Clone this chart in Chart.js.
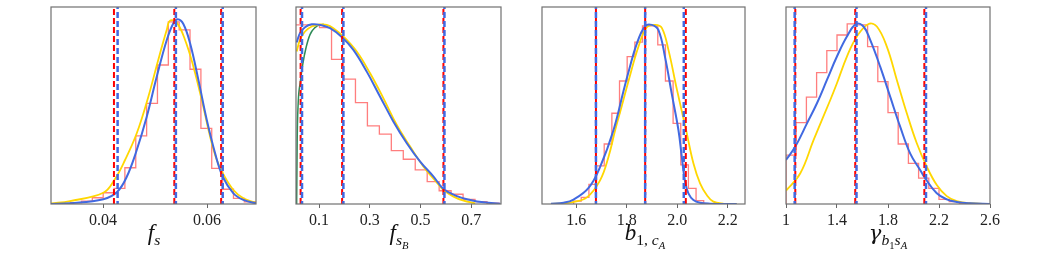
<!DOCTYPE html>
<html>
<head>
<meta charset="utf-8">
<script src="https://cdn.jsdelivr.net/npm/chart.js@4.4.1/dist/chart.umd.min.js"></script>
<style>
  body { margin: 0; background: #fff; }
  #wrap { position: relative; width: 1042px; height: 253px; overflow: hidden; }
  canvas { position: absolute; top: 0; }
  .xl { position: absolute; top: 222px; width: 200px; text-align: center; white-space: nowrap;
        font: italic 23px "Liberation Serif", "DejaVu Serif", serif; line-height: 22px; color: #111; }
  .xl sub { font-size: 68%; vertical-align: -0.35em; line-height: 0; }
  .up { font-style: normal; }
  .gam { font-family: "DejaVu Serif", serif; font-size: 21px; }
</style>
</head>
<body>
<div id="wrap">
  <canvas id="c1"></canvas>
  <canvas id="c2"></canvas>
  <canvas id="c3"></canvas>
  <canvas id="c4"></canvas>
  <div class="xl" style="left:54px">f<sub>s</sub></div>
  <div class="xl" style="left:299px">f<sub>s<sub>B</sub></sub></div>
  <div class="xl" style="left:545px">b<sub><span class="up">1,</span> c<sub>A</sub></sub></div>
  <div class="xl" style="left:788px"><span class="gam">γ</span><sub>b<sub class="up">1</sub>s<sub>A</sub></sub></div>
</div>
<script>
const YMAX = 1.07;

// panel 1: f_s
const fsTicks = [0.04, 0.06];
const fsTickLabels = ['0.04', '0.06'];
const fsEdges = [0.03377,0.03586,0.03794,0.04003,0.04212,0.04420,0.04629,0.04838,0.05046,0.05255,0.05463,0.05672,0.05881,0.06089,0.06298,0.06507,0.06715,0.06924];
const fsHist = [0.007,0.016,0.034,0.061,0.085,0.197,0.370,0.547,0.755,0.989,0.946,0.732,0.411,0.194,0.080,0.031,0.011];
const fsBlueX = [0.0300,0.03365,0.04006,0.04275,0.04456,0.04648,0.04840,0.05033,0.05225,0.05352,0.05437,0.05544,0.05673,0.05833,0.05994,0.06154,0.06302,0.06506,0.06698,0.06937];
const fsBlueY = [0.000,0.004,0.026,0.067,0.148,0.293,0.474,0.692,0.891,0.982,1.004,0.978,0.873,0.674,0.457,0.276,0.148,0.058,0.022,0.004];
const fsGoldX = [0.0300,0.03365,0.04006,0.04217,0.04423,0.04648,0.04871,0.05044,0.05225,0.05288,0.05417,0.05577,0.05737,0.05898,0.06058,0.06187,0.06302,0.06506,0.06698,0.06937];
const fsGoldY = [0.003,0.016,0.061,0.130,0.239,0.384,0.583,0.765,0.946,0.996,0.985,0.891,0.746,0.565,0.366,0.239,0.167,0.076,0.031,0.007];
const fsRedLines = [0.0421, 0.0537, 0.0627];
const fsBlueLines = [0.0428, 0.0540, 0.0630];

// panel 2: f_{s_B}
const fsbTicks = [0.1, 0.3, 0.5, 0.7];
const fsbTickLabels = ['0.1', '0.3', '0.5', '0.7'];
const fsbEdges = [0.0080,0.0551,0.1022,0.1493,0.1964,0.2435,0.2906,0.3377,0.3848,0.4319,0.4790,0.5261,0.5732,0.6203,0.6674,0.7145,0.7616,0.8087];
const fsbHist = [0.973,0.973,0.958,0.786,0.678,0.551,0.424,0.379,0.290,0.243,0.185,0.121,0.072,0.053,0.025,0.013,0.004];
const fsbBlueX = [0.0119,0.0250,0.0448,0.0711,0.1039,0.1434,0.1907,0.2354,0.2880,0.3406,0.3932,0.4458,0.4984,0.5510,0.5905,0.6431,0.6957,0.7482,0.8140];
const fsbBlueY = [0.877,0.928,0.960,0.976,0.973,0.955,0.906,0.837,0.719,0.583,0.447,0.330,0.230,0.149,0.082,0.043,0.022,0.009,0.002];
const fsbGoldX = [0.0119,0.0250,0.0448,0.0711,0.1039,0.1303,0.1565,0.1986,0.2486,0.3012,0.3538,0.4064,0.4590,0.5116,0.5642,0.5905,0.6299,0.6694,0.7154];
const fsbGoldY = [0.828,0.891,0.937,0.964,0.975,0.973,0.955,0.906,0.828,0.710,0.574,0.429,0.312,0.203,0.116,0.076,0.040,0.018,0.004];
const fsbGreenX = [0.0119,0.0140,0.0180,0.0260,0.0360,0.0490,0.0645,0.0840,0.1040,0.1200];
const fsbGreenY = [0.000,0.350,0.550,0.660,0.760,0.850,0.920,0.958,0.973,0.975];
const fsbRedLines = [0.0275, 0.191, 0.590];
const fsbBlueLines = [0.033, 0.196, 0.594];

// panel 3: b_{1, c_A}
const b1Ticks = [1.6, 1.8, 2.0, 2.2];
const b1TickLabels = ['1.6', '1.8', '2.0', '2.2'];
const b1Edges = [1.5895,1.6198,1.6501,1.6805,1.7108,1.7411,1.7714,1.8017,1.8321,1.8624,1.8927,1.9230,1.9533,1.9837,2.0140,2.0443,2.0746,2.1049];
const b1Hist = [0.016,0.036,0.107,0.207,0.326,0.493,0.668,0.801,0.879,0.967,0.967,0.864,0.668,0.438,0.212,0.085,0.018];
const b1BlueX = [1.4998,1.5499,1.5894,1.6488,1.6949,1.7477,1.7872,1.8070,1.8400,1.8729,1.8993,1.9257,1.9521,1.9784,2.0048,2.0180,2.0312,2.0443,2.0641,2.0905,2.1301,2.2355];
const b1BlueY = [0.002,0.007,0.024,0.087,0.203,0.402,0.614,0.717,0.871,0.966,0.973,0.944,0.795,0.598,0.402,0.257,0.121,0.058,0.022,0.007,0.002,0.000];
const b1GoldX = [1.4998,1.5499,1.5894,1.6422,1.6949,1.7279,1.7543,1.7806,1.8070,1.8466,1.8795,1.9125,1.9389,1.9652,1.9982,2.0351,2.0641,2.0905,2.1169,2.1432,2.1828,2.2355];
const b1GoldY = [0.000,0.004,0.011,0.036,0.130,0.257,0.402,0.533,0.668,0.855,0.960,0.973,0.957,0.837,0.625,0.402,0.221,0.112,0.049,0.013,0.002,0.000];
const b1RedLines = [1.678, 1.873, 2.034];
const b1BlueLines = [1.678, 1.873, 2.026];

// panel 4: gamma_{b1 sA}
const gTicks = [1, 1.4, 1.8, 2.2, 2.6];
const gTickLabels = ['1', '1.4', '1.8', '2.2', '2.6'];
const gEdges = [1.00,1.08,1.16,1.24,1.32,1.40,1.48,1.56,1.64,1.72,1.80,1.88,1.96,2.04,2.12,2.20,2.28,2.36,2.44,2.52,2.60];
const gHist = [0.266,0.442,0.580,0.714,0.833,0.918,0.978,0.973,0.855,0.665,0.496,0.326,0.221,0.140,0.085,0.025,0.013,0.004,0.002,0.000];
const gBlueX = [1.0,1.0731,1.1644,1.2428,1.3211,1.3994,1.4777,1.5508,1.6082,1.6604,1.7387,1.8170,1.8953,1.9736,2.0519,2.0911,2.1825,2.2608,2.3391,2.4435,2.6];
const gBlueY = [0.239,0.312,0.438,0.547,0.674,0.801,0.910,0.978,0.964,0.891,0.746,0.583,0.420,0.275,0.185,0.140,0.058,0.025,0.011,0.004,0.000];
const gGoldX = [1.0,1.1122,1.2167,1.3472,1.3994,1.4777,1.5560,1.6474,1.7126,1.7909,1.8692,1.9475,2.0258,2.1041,2.1825,2.2608,2.3391,2.4435,2.6];
const gGoldY = [0.072,0.167,0.348,0.565,0.656,0.801,0.910,0.978,0.964,0.855,0.674,0.493,0.330,0.203,0.103,0.043,0.016,0.004,0.000];
const gRedLines = [1.073, 1.543, 2.085];
const gBlueLines = [1.068, 1.553, 2.098];

const RED = '#ff0000';
const BLUE = '#4169e1';
const GOLD = '#ffd700';
const GREEN = '#2e8b57';
const HIST = 'rgba(255,40,40,0.6)';
const PAD = 30;   // canvas margin around each plot box
const AXH = 24;   // height kept for the tick labels

function curve(xs, ys) {
  return xs.map((x, i) => ({ x: x, y: ys[i] }));
}

// outline of a step histogram, open at the bottom
function steps(edges, h) {
  const pts = [{ x: edges[0], y: 0 }];
  h.forEach((v, i) => pts.push({ x: edges[i], y: v }));
  pts.push({ x: edges[edges.length - 1], y: h[h.length - 1] });
  pts.push({ x: edges[edges.length - 1], y: 0 });
  return pts;
}

function vline(v, color, width, offset) {
  return {
    data: [{ x: v, y: 0 }, { x: v, y: YMAX }],
    borderColor: color, borderWidth: width,
    borderDash: [6, 3], borderDashOffset: offset
  };
}

const panels = [
  { id: 'c1', left: 51, right: 256, min: 0.0300, max: 0.0694, ticks: fsTicks, labels: fsTickLabels,
    edges: fsEdges, hist: fsHist, blue: curve(fsBlueX, fsBlueY), gold: curve(fsGoldX, fsGoldY), green: null,
    redV: fsRedLines, blueV: fsBlueLines },
  { id: 'c2', left: 296, right: 501, min: 0.0093, max: 0.8168, ticks: fsbTicks, labels: fsbTickLabels,
    edges: fsbEdges, hist: fsbHist, blue: curve(fsbBlueX, fsbBlueY), gold: curve(fsbGoldX, fsbGoldY), green: curve(fsbGreenX, fsbGreenY),
    redV: fsbRedLines, blueV: fsbBlueLines },
  { id: 'c3', left: 542, right: 745, min: 1.4643, max: 2.2685, ticks: b1Ticks, labels: b1TickLabels,
    edges: b1Edges, hist: b1Hist, blue: curve(b1BlueX, b1BlueY), gold: curve(b1GoldX, b1GoldY), green: null,
    redV: b1RedLines, blueV: b1BlueLines },
  { id: 'c4', left: 786, right: 990, min: 1.0, max: 2.6, ticks: gTicks, labels: gTickLabels,
    edges: gEdges, hist: gHist, blue: curve(gBlueX, gBlueY), gold: curve(gGoldX, gGoldY), green: null,
    redV: gRedLines, blueV: gBlueLines }
];

// box round the plot area, drawn over the data like matplotlib spines
const frame = {
  id: 'frame',
  afterDatasetsDraw(chart) {
    const a = chart.chartArea, ctx = chart.ctx;
    ctx.save();
    ctx.strokeStyle = '#707070';
    ctx.lineWidth = 1.2;
    ctx.strokeRect(a.left, a.top, a.right - a.left, a.bottom - a.top);
    ctx.restore();
  }
};

panels.forEach(p => {
  const cv = document.getElementById(p.id);
  cv.width = p.right - p.left + 2 * PAD;
  cv.height = 253;
  cv.style.left = (p.left - PAD) + 'px';

  // first in the list is drawn on top
  const ds = [];
  p.blueV.forEach(v => ds.push(vline(v, BLUE, 2.5, 3)));
  p.redV.forEach(v => ds.push(vline(v, RED, 2, 0)));
  ds.push({ data: p.blue, borderColor: BLUE, borderWidth: 2, tension: 0.4 });
  ds.push({ data: p.gold, borderColor: GOLD, borderWidth: 1.8, tension: 0.4 });
  if (p.green) ds.push({ data: p.green, borderColor: GREEN, borderWidth: 1.5, cubicInterpolationMode: 'monotone' });
  ds.push({ data: steps(p.edges, p.hist), borderColor: HIST, borderWidth: 1.3, stepped: true });

  new Chart(cv, {
    type: 'line',
    data: { datasets: ds },
    options: {
      responsive: false,
      animation: false,
      devicePixelRatio: 1,
      layout: { padding: { left: PAD, right: PAD, top: 7, bottom: 253 - 204 - AXH } },
      plugins: { legend: { display: false }, tooltip: { enabled: false } },
      elements: { point: { radius: 0 }, line: { fill: false } },
      scales: {
        x: {
          type: 'linear', min: p.min, max: p.max,
          afterBuildTicks: s => { s.ticks = p.ticks.map(v => ({ value: v })); },
          afterFit: s => { s.height = AXH; },
          ticks: {
            callback: (v, i) => p.labels[i],
            font: { family: '"Liberation Serif", "DejaVu Serif", serif', size: 16 },
            color: '#222', padding: 3, maxRotation: 0, autoSkip: false
          },
          grid: { display: true, drawOnChartArea: false, drawTicks: true, tickLength: 4, color: '#666' },
          border: { display: false }
        },
        y: { display: false, min: 0, max: YMAX }
      }
    },
    plugins: [frame]
  });
});
</script>
</body>
</html>
